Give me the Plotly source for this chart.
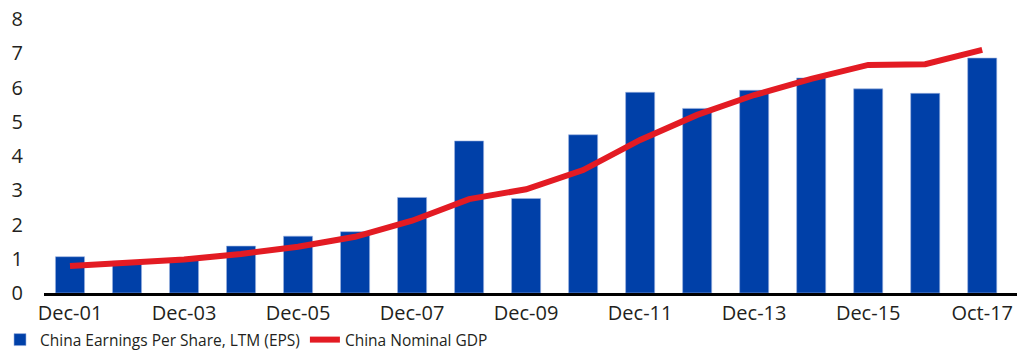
import plotly.graph_objects as go

categories = ["Dec-01", "Dec-02", "Dec-03", "Dec-04", "Dec-05", "Dec-06", "Dec-07", "Dec-08",
              "Dec-09", "Dec-10", "Dec-11", "Dec-12", "Dec-13", "Dec-14", "Dec-15", "Dec-16", "Oct-17"]
eps = [1.06, 0.93, 1.00, 1.37, 1.66, 1.79, 2.79, 4.44, 2.76, 4.62, 5.86, 5.39, 5.92, 6.28, 5.96, 5.83, 6.86]
gdp = [0.79, 0.87, 0.98, 1.14, 1.35, 1.64, 2.11, 2.74, 3.03, 3.59, 4.47, 5.20, 5.78, 6.25, 6.66, 6.68, 7.10]
tick_labels = categories[::2]
y_ticks = [0, 1, 2, 3, 4, 5, 6, 7, 8]

font_family = "Open Sans, Noto Sans, sans-serif"
text_color = "#231F20"

fig = go.Figure()
fig.add_trace(go.Bar(
    x=categories, y=eps, name="China Earnings Per Share, LTM (EPS)",
    marker=dict(color="#0040A8", line=dict(color="#9DB3E0", width=0.6)),
))
fig.add_trace(go.Scatter(
    x=categories, y=gdp, name="China Nominal GDP", mode="lines",
    line=dict(color="#E31B23", width=6),
))

fig.update_layout(
    width=1034, height=352,
    margin=dict(l=44, r=17, t=19, b=59, autoexpand=False),
    paper_bgcolor="white", plot_bgcolor="white",
    bargap=0.49,
    font=dict(family=font_family, color=text_color),
    showlegend=True,
    legend=dict(
        orientation="h", xref="container", yref="container",
        x=-0.006, y=0.034, xanchor="left", yanchor="middle",
        font=dict(size=15.5, color=text_color, family=font_family),
        itemwidth=30, tracegroupgap=0, bgcolor="rgba(0,0,0,0)",
    ),
)
fig.update_xaxes(
    type="category", range=[-0.456, 16.61],
    tickmode="array", tickvals=tick_labels, ticktext=tick_labels,
    showline=True, linecolor="black", linewidth=2.5,
    showgrid=False, ticks="", zeroline=False,
    tickfont=dict(size=20, color=text_color, family=font_family),
)
fig.update_yaxes(
    range=[0, 8], tickmode="array", tickvals=y_ticks,
    showgrid=False, zeroline=False, showline=False, ticks="",
    ticklabelstandoff=20,
    tickfont=dict(size=20, color=text_color, family=font_family),
)

fig.write_html("out.html")
